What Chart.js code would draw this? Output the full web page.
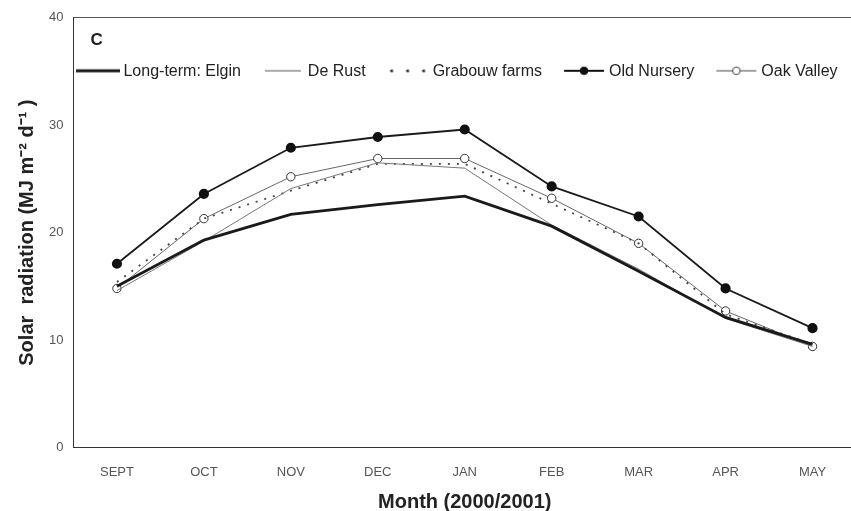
<!DOCTYPE html>
<html>
<head>
<meta charset="utf-8">
<script src="https://cdn.jsdelivr.net/npm/chart.js@4"></script>
<style>
  html, body { margin: 0; padding: 0; background: #fff; overflow: hidden; }
  #wrap { width: 862px; height: 511px; }
</style>
</head>
<body>
<div id="wrap"><canvas id="solar"></canvas></div>
<script>
const months = ['SEPT','OCT','NOV','DEC','JAN','FEB','MAR','APR','MAY'];
const elgin = [15.0,19.3,21.7,22.6,23.4,20.6,16.4,12.1,9.6];
const deRust = [14.6,19.2,24.1,26.5,26.0,20.7,16.6,12.0,9.4];
const grabouw = [15.4,21.3,23.9,26.4,26.4,22.7,19.0,12.4,9.6];
const oldNursery = [17.1,23.6,27.9,28.9,29.6,24.3,21.5,14.8,11.1];
const oakValley = [14.8,21.3,25.2,26.9,26.9,23.2,19.0,12.7,9.4];
const yTicks = [0,10,20,30,40];
const panelLabel = 'C';

// legend samples: line + marker
function sample(kind) {
  const c = document.createElement('canvas');
  c.width = 44; c.height = 12;
  const g = c.getContext('2d');
  g.strokeStyle = '#1a1a1a';
  if (kind === 'thick') { g.lineWidth = 3.2; g.beginPath(); g.moveTo(0,6); g.lineTo(44,6); g.stroke(); }
  if (kind === 'thin') { g.lineWidth = 1; g.strokeStyle = '#555'; g.beginPath(); g.moveTo(4,6); g.lineTo(40,6); g.stroke(); }
  if (kind === 'dot') { g.fillStyle = '#333'; [6,22,38].forEach(x => { g.beginPath(); g.arc(x,6,1.6,0,Math.PI*2); g.fill(); }); }
  if (kind === 'full' || kind === 'open') {
    g.lineWidth = kind === 'full' ? 2 : 1;
    g.strokeStyle = kind === 'full' ? '#111' : '#444';
    g.beginPath(); g.moveTo(2,6); g.lineTo(42,6); g.stroke();
    g.beginPath(); g.arc(22,6,3.8,0,Math.PI*2);
    g.fillStyle = kind === 'full' ? '#111' : '#fff'; g.fill();
    g.lineWidth = 1; g.stroke();
  }
  return c;
}
const legendMarks = [sample('thick'), sample('thin'), sample('dot'), sample('full'), sample('open')];

// legend drawn in one row inside the plot, under the panel letter
const insideLegend = {
  id: 'insideLegend',
  afterDatasetsDraw(chart) {
    const { ctx, chartArea } = chart;
    ctx.save();
    ctx.fillStyle = '#222';
    ctx.font = 'bold 17px "Liberation Sans"';
    ctx.textBaseline = 'middle';
    ctx.fillText(panelLabel, chartArea.left + 17, chartArea.top + 23);
    ctx.font = '16px "Liberation Sans"';
    let x = chartArea.left + 3;
    const y = chartArea.top + 53;
    chart.data.datasets.forEach((ds, i) => {
      const m = legendMarks[i];
      ctx.drawImage(m, x, y - m.height / 2);
      x += m.width + 3;
      ctx.fillText(ds.label, x, y + 1);
      x += ctx.measureText(ds.label).width + 20;
    });
    ctx.restore();
  }
};

const solarChart = document.getElementById('solar').getContext('2d');
const solar = new Chart(solarChart, {
  type: 'line',
  data: {
    labels: months,
    datasets: [{
      label: 'Long-term: Elgin',
      data: elgin,
      borderColor: '#1a1a1a',
      borderWidth: 2.8,
      pointRadius: 0
    }, {
      label: 'De Rust',
      data: deRust,
      borderColor: '#777',
      borderWidth: 1,
      pointRadius: 0
    }, {
      label: 'Grabouw farms',
      data: grabouw,
      borderColor: '#444',
      borderWidth: 1.8,
      borderDash: [2, 7],
      pointRadius: 0
    }, {
      label: 'Old Nursery',
      data: oldNursery,
      borderColor: '#1a1a1a',
      borderWidth: 1.8,
      pointRadius: 4.2,
      pointBackgroundColor: '#111',
      pointBorderColor: '#111'
    }, {
      label: 'Oak Valley',
      data: oakValley,
      borderColor: '#666',
      borderWidth: 1,
      pointRadius: 4.2,
      pointBackgroundColor: '#fff',
      pointBorderColor: '#333',
      pointBorderWidth: 1
    }]
  },
  options: {
    responsive: true,
    maintainAspectRatio: false,
    animation: false,
    layout: { padding: { top: 15, right: 5, left: 4, bottom: 0 } },
    plugins: {
      tooltip: { enabled: false },
      legend: { display: false }
    },
    scales: {
      x: {
        offset: true,
        grid: { display: false, drawTicks: false },
        border: { display: true, color: '#333', width: 1 },
        ticks: { color: '#555', font: { family: 'Liberation Sans', size: 13 }, padding: 17 },
        title: {
          display: true,
          text: 'Month (2000/2001)',
          color: '#222',
          font: { family: 'Liberation Sans', size: 20, weight: 'bold', lineHeight: 1 },
          padding: { top: -5, bottom: -1 }
        }
      },
      y: {
        min: 0,
        max: 40,
        afterBuildTicks: axis => { axis.ticks = yTicks.map(v => ({ value: v })); },
        grid: {
          drawTicks: false,
          color: ctx => ctx.tick && ctx.tick.value === 40 ? '#555' : 'rgba(0,0,0,0)'
        },
        border: { display: true, color: '#333', width: 1 },
        ticks: { color: '#555', font: { family: 'Liberation Sans', size: 13 }, padding: 10 },
        title: {
          display: true,
          text: 'Solar  radiation (MJ m\u207B\u00B2 d\u207B\u00B9 )',
          color: '#222',
          font: { family: 'Liberation Sans', size: 20, weight: 'bold', lineHeight: 1 },
          padding: { top: 13, bottom: 2 }
        }
      }
    }
  },
  plugins: [insideLegend]
})
</script>
</body>
</html>
